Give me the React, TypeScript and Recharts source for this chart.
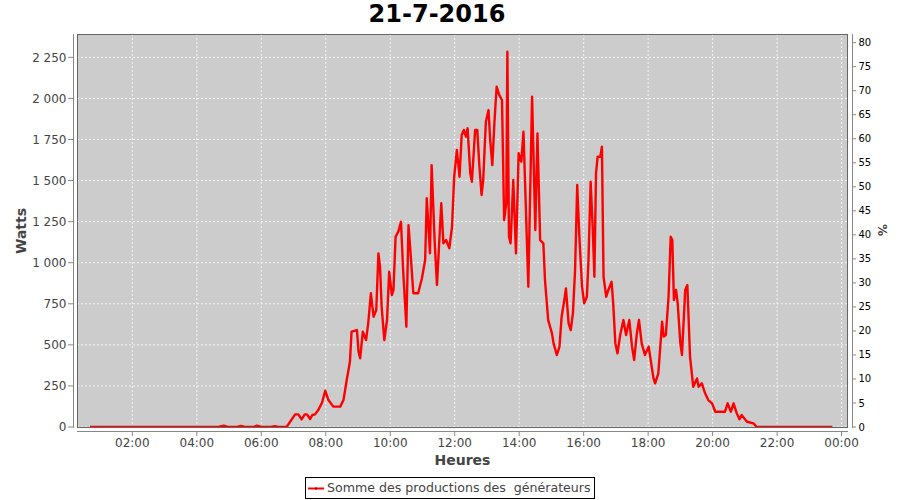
import React from "react";
import { ComposedChart, Line, XAxis, YAxis, CartesianGrid } from "recharts";

// time of day in minutes since midnight
const minutes: number[] = [
  41, 120, 180, 240, 280, 290, 298, 315, 322, 330,
  345, 352, 360, 378, 385, 392, 407,
  423, 429, 435, 441, 445, 451, 455, 460, 466, 473,
  479, 485, 494, 507, 513, 519, 525, 528, 538, 541,
  544, 549, 555, 559, 564, 569, 574, 578, 581, 584,
  589, 594, 598, 603, 606, 610, 615, 620, 624, 630,
  634, 637, 643, 652, 659, 665, 668, 674, 677, 683,
  687, 695, 699, 704, 710, 715, 719, 724, 729, 733,
  737, 741, 744, 749, 752, 758, 762, 766, 770, 773,
  778, 783, 786, 790, 794, 798, 803, 808, 812, 816,
  818, 821, 824, 829, 834, 839, 844, 848, 857, 864,
  870, 874, 879, 885, 888, 894, 901, 904, 910, 915,
  919, 924, 927, 932, 936, 940, 944, 948, 952, 957,
  961, 966, 969, 973, 977, 980, 983, 986, 991, 994,
  997, 1002, 1006, 1012, 1015, 1019, 1023, 1028, 1034, 1039,
  1045, 1050, 1054, 1059, 1063, 1068, 1074, 1081, 1090, 1093,
  1099, 1106, 1109, 1113, 1118, 1122, 1125, 1128, 1132, 1135,
  1140, 1143, 1149, 1153, 1158, 1164, 1171, 1174, 1180, 1186,
  1192, 1199, 1205, 1217, 1223, 1228, 1234, 1239, 1245, 1250,
  1254, 1264, 1276, 1282, 1423,
];

// sum of generator production (W)
const watts: number[] = [
  0, 0, 0, 0, 0, 8, 0, 0, 6, 0,
  0, 8, 0, 0, 5, 0, 0,
  77, 77, 47, 77, 77, 49, 73, 77, 103, 148,
  221, 164, 124, 124, 164, 286, 397, 580, 590, 458,
  418, 580, 529, 631, 814, 671, 712, 1057, 976, 732,
  529, 651, 945, 803, 834, 1158, 1189, 1249, 955, 610,
  1229, 1097, 814, 814, 905, 1016, 1392, 1057, 1594, 1108,
  864, 1362, 1118, 1138, 1088, 1219, 1523, 1686, 1523, 1777,
  1808, 1767, 1818, 1544, 1493, 1808, 1808, 1584, 1412, 1503,
  1858, 1929, 1747, 1594, 1858, 2071, 2020, 1990, 1260, 1362,
  2284, 1158, 1118, 1503, 1057, 1666, 1615, 1797, 854, 2010,
  1199, 1787, 1138, 1118, 895, 651, 570, 509, 438, 489,
  671, 773, 844, 631, 590, 692, 955, 1473, 1158, 854,
  753, 793, 1016, 1493, 1199, 915, 1544, 1645, 1645, 1706,
  915, 793, 834, 884, 753, 509, 448, 560, 651, 560,
  651, 489, 408, 570, 651, 509, 438, 489, 296, 266,
  327, 641, 550, 560, 793, 1158, 1138, 773, 834, 753,
  509, 438, 834, 864, 428, 245, 296, 245, 266, 205,
  164, 144, 93, 93, 93, 144, 93, 144, 83, 47,
  73, 32, 22, 0, 0,
];

const xTicks: number[] = [120, 240, 360, 480, 600, 720, 840, 960, 1080, 1200, 1320, 1440];
const xTickLabels: string[] = ["02:00", "04:00", "06:00", "08:00", "10:00", "12:00", "14:00", "16:00", "18:00", "20:00", "22:00", "00:00"];
const leftTicks: number[] = [0, 250, 500, 750, 1000, 1250, 1500, 1750, 2000, 2250];
const rightTicks: number[] = [0, 5, 10, 15, 20, 25, 30, 35, 40, 45, 50, 55, 60, 65, 70, 75, 80];

const title = "21-7-2016";
const seriesName = "Somme des productions des  générateurs";

const data = minutes.map((m, i) => ({ m, w: watts[i] }));

const FONT = "'DejaVu Sans', sans-serif";
const AXIS_GRAY = "#888888";

const fmtThousands = (v: number) => String(v).replace(/\B(?=(\d{3})+(?!\d))/g, " ");

const LeftTick = (props: any) => {
  const { x, y, payload } = props;
  return (
    <g>
      <line x1={x - 9} x2={x - 4} y1={y} y2={y} stroke={AXIS_GRAY} />
      <text x={x - 10.5} y={y} dy="0.35em" textAnchor="end" fontSize={12} fill="#444" fontFamily={FONT}>
        {fmtThousands(payload.value)}
      </text>
    </g>
  );
};

const RightTick = (props: any) => {
  const { x, y, payload } = props;
  return (
    <g>
      <line x1={x + 4} x2={x + 8} y1={y} y2={y} stroke={AXIS_GRAY} />
      <text x={x + 10.5} y={y} dy="0.35em" textAnchor="start" fontSize={10} fill="#000" fontFamily={FONT}>
        {payload.value}
      </text>
    </g>
  );
};

const BottomTick = (props: any) => {
  const { x, y, payload } = props;
  const idx = xTicks.indexOf(payload.value);
  return (
    <g>
      <line x1={x} x2={x} y1={y + 4} y2={y + 8} stroke={AXIS_GRAY} />
      <text x={x} y={y + 19} textAnchor="middle" fontSize={12} fill="#444" fontFamily={FONT}>
        {idx >= 0 ? xTickLabels[idx] : ""}
      </text>
    </g>
  );
};

export default function App() {
  return (
    <div style={{ position: "absolute", left: 0, top: 0, width: 900, height: 500, background: "#fff", fontFamily: FONT }}>
      <div
        style={{
          position: "absolute", left: 0, top: 0, width: 874, textAlign: "center",
          fontSize: 24, lineHeight: "28px", fontWeight: "bold", color: "#000",
        }}
      >
        {title}
      </div>
      <div style={{ position: "absolute", left: 0, top: 0 }}>
        <ComposedChart width={900} height={500} data={data} margin={{ top: 34, right: 0, bottom: 42, left: 0 }}>
          <CartesianGrid
            yAxisId="left"
            fill="#cccccc"
            fillOpacity={1}
            stroke="#f4f4f4"
            strokeDasharray="2 2"
            strokeWidth={1}
          />
          <XAxis
            dataKey="m"
            type="number"
            domain={[17, 1452]}
            ticks={xTicks}
            allowDataOverflow
            height={30}
            axisLine={false}
            tickLine={false}
            tickSize={0}
            tickMargin={0}
            interval={0}
            tick={<BottomTick />}
          />
          <YAxis
            yAxisId="left"
            orientation="left"
            width={77}
            domain={[-6, 2392]}
            ticks={leftTicks}
            allowDataOverflow
            axisLine={false}
            tickLine={false}
            tickSize={0}
            tickMargin={0}
            interval={0}
            tick={<LeftTick />}
          />
          <YAxis
            yAxisId="right"
            orientation="right"
            width={52}
            domain={[-0.2, 81.8]}
            ticks={rightTicks}
            allowDataOverflow
            axisLine={false}
            tickLine={false}
            tickSize={0}
            tickMargin={0}
            interval={0}
            tick={<RightTick />}
          />
          <Line
            yAxisId="left"
            type="linear"
            dataKey="w"
            stroke="#ff0000"
            strokeWidth={2.4}
            strokeLinejoin="round"
            dot={false}
            isAnimationActive={false}
          />
          <Line
            yAxisId="right"
            type="linear"
            dataKey="pct"
            stroke="none"
            dot={false}
            legendType="none"
            isAnimationActive={false}
          />
        </ComposedChart>
      </div>
      <svg width={900} height={500} style={{ position: "absolute", left: 0, top: 0, pointerEvents: "none" }}>
        <rect x={77.5} y={34.5} width={770} height={393} fill="none" stroke="#666" strokeWidth={1} />
        <line x1={73.5} x2={73.5} y1={34} y2={428} stroke={AXIS_GRAY} />
        <line x1={852.5} x2={852.5} y1={34} y2={428} stroke={AXIS_GRAY} />
        <line x1={77} x2={848} y1={431.5} y2={431.5} stroke={AXIS_GRAY} />
        <text
          x={0} y={0} transform="translate(25.5,231) rotate(-90)" textAnchor="middle"
          fontSize={14} fontWeight="bold" fill="#444" fontFamily={FONT}
        >
          Watts
        </text>
        <text x={462.5} y={465} textAnchor="middle" fontSize={14} fontWeight="bold" fill="#444" fontFamily={FONT}>
          Heures
        </text>
        <text
          x={0} y={0} transform="translate(878,230) rotate(90)" textAnchor="middle"
          fontSize={12} fontWeight="bold" fill="#444" fontFamily={FONT}
        >
          %
        </text>
      </svg>
      <div
        style={{
          position: "absolute", left: 305, top: 477, width: 290, height: 22, boxSizing: "border-box",
          border: "1px solid #000", background: "#fff",
        }}
      >
        <svg width={20} height={20} style={{ position: "absolute", left: 1, top: 0 }}>
          <line x1={1} x2={17} y1={10.5} y2={10.5} stroke="#ff0000" strokeWidth={2} />
          <rect x={8} y={9.5} width={2} height={2} fill="#a00000" />
        </svg>
        <div
          style={{
            position: "absolute", left: 21, top: 0, height: 20, lineHeight: "20px",
            fontSize: 12.6, color: "#444", whiteSpace: "pre",
          }}
        >
          {seriesName}
        </div>
      </div>
    </div>
  );
}
